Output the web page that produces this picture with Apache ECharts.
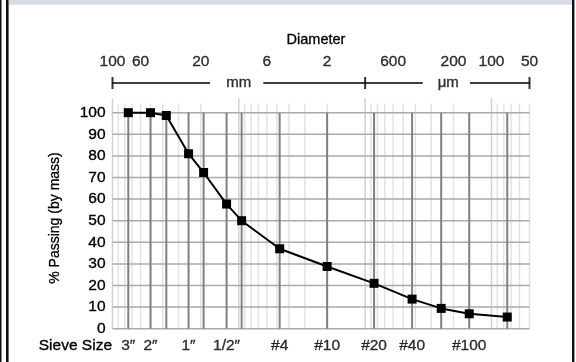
<!DOCTYPE html>
<html>
<head>
<meta charset="utf-8">
<script src="https://cdn.jsdelivr.net/npm/echarts@6/dist/echarts.min.js"></script>
<style>
html,body{margin:0;padding:0;background:#fff;}
#chart{width:576px;height:362px;}
</style>
</head>
<body>
<div id="chart"></div>
<script>
// sieve openings (mm) and % passing
var sieveSizes = [75, 50, 37.5, 25, 19, 12.5, 9.5, 4.75, 2.0, 0.85, 0.425, 0.25, 0.15, 0.075];
var sieveNames = ['3″', '2″', '', '1″', '', '1/2″', '', '#4', '#10', '#20', '#40', '', '#100', ''];
var passing = [100, 100, 98.7, 81, 72.3, 57.7, 50, 37, 28.8, 21, 13.7, 9.4, 6.9, 5.4];

// diameter scale on top
var diaTicks = [100, 60, 20, 6, 2, 0.6, 0.2, 0.1, 0.05];
var diaLabels = ['100', '60', '20', '6', '2', '600', '200', '100', '50'];
var unitPos = [10, 0.22];
var unitNames = ['mm', 'μm'];
var barEnds = [100, 1, 0.05];
// bar pieces, broken where the unit names sit
var barPieces = [[100, 16.9], [6.4, 0.35], [0.148, 0.05]];

// grid
var yTicks = [0, 10, 20, 30, 40, 50, 60, 70, 80, 90, 100];
var decades = [0.01, 0.1, 1, 10, 100];
var mantissa = [1, 2, 3, 4, 5, 6, 7, 8, 9];

var xMin = 0.05, xMax = 100;
var FONT = '"Liberation Sans", Arial, sans-serif';
var TXT = {color:'#000', fontFamily:FONT, textBorderColor:'#000', textBorderWidth:0.35};
var BAR_Y = 0.175;

var minorLines = [];
decades.forEach(function(d){
    mantissa.forEach(function(m){
        var v = +(d * m).toPrecision(3);
        if (v >= xMin && v <= xMax) minorLines.push([v, m == 1 ? 1 : 0]);
    });
});

var chart = echarts.init(document.getElementById('chart'));

// vertical line helper for custom series
function vLine(y0, y1, style){
    return function(params, api){
        var dec = api.value(1) == 1;
        var p0 = api.coord([api.value(0), y0]);
        var p1 = api.coord([api.value(0), dec ? y1 + 2.5 : y1]);
        return {type:'line', shape:{x1:p0[0], y1:p0[1], x2:p1[0], y2:p1[1]},
            style:{stroke: dec && style.decadeStroke ? style.decadeStroke : style.stroke, lineWidth: style.lineWidth}};
    };
}

function txt(size, extra){
    return echarts.util.extend(echarts.util.extend({fontSize:size}, TXT), extra || {});
}

var barData = [];
barPieces.forEach(function(p, i){
    if (i > 0) barData.push('-');
    barData.push([p[0], BAR_Y], [p[1], BAR_Y]);
});

var option = {
    animation: false,
    backgroundColor: '#fff',
    textStyle: {fontFamily: FONT},
    grid: [
        {left: 112.5, right: 46.5, top: 98, bottom: 33.3},
        {left: 112.5, right: 46.5, top: 50, height: 40}
    ],
    xAxis: [
        {type:'log', logBase:10, gridIndex:0, inverse:true, min:xMin, max:xMax,
         axisLine:{show:false}, axisTick:{show:false}, axisLabel:{show:false}, splitLine:{show:false}},
        {type:'log', logBase:10, gridIndex:1, inverse:true, min:xMin, max:xMax,
         axisLine:{show:false}, axisTick:{show:false}, axisLabel:{show:false}, splitLine:{show:false}}
    ],
    yAxis: [
        {type:'value', gridIndex:0, min:0, max:106.8, interval:10,
         axisLine:{show:false}, axisTick:{show:false}, splitLine:{show:false},
         axisLabel:txt(15.5, {margin:7, formatter:function(v){ return v <= 100 ? v : ''; }})},
        {type:'value', gridIndex:1, min:0, max:1, show:false}
    ],
    graphic: [
        {type:'rect', left:0, top:0, shape:{width:1.5, height:362}, style:{fill:'#111'}},
        {type:'rect', left:6, top:0, shape:{width:2.6, height:362}, style:{fill:'#111'}},
        {type:'rect', left:9, top:0, shape:{width:563, height:4.7}, style:{fill:'#d5dce4'}},
        {type:'rect', left:572, top:0, shape:{width:2.4, height:362}, style:{fill:'#111'}},
        {type:'text', x:316, y:40, style:{text:'Diameter', fill:'#000', font:'14.5px ' + FONT, textAlign:'center', textVerticalAlign:'middle', stroke:'#000', lineWidth:0.3}},
        {type:'text', x:55, y:218, rotation:Math.PI/2, style:{text:'% Passing (by mass)', fill:'#000', font:'14px ' + FONT, textAlign:'center', textVerticalAlign:'middle', stroke:'#000', lineWidth:0.3}},
        {type:'text', x:112, y:346, style:{text:'Sieve Size', fill:'#000', font:'15.5px ' + FONT, textAlign:'right', textVerticalAlign:'middle', stroke:'#000', lineWidth:0.35}}
    ],
    series: [
        {   // light log grid
            type:'custom', xAxisIndex:0, yAxisIndex:0, silent:true, z:1,
            data: minorLines,
            encode:{x:0},
            renderItem: vLine(0, 104.2, {stroke:'#e3e3e3', decadeStroke:'#d2d2d2', lineWidth:1.5})
        },
        {   // horizontal lines
            type:'custom', xAxisIndex:0, yAxisIndex:0, silent:true, z:2,
            data: yTicks.map(function(v){ return [xMax, v]; }),
            encode:{x:0, y:1},
            renderItem: function(params, api){
                var p0 = api.coord([xMax, api.value(1)]);
                var p1 = api.coord([xMin, api.value(1)]);
                return {type:'line', shape:{x1:p0[0], y1:p0[1], x2:p1[0], y2:p1[1]}, style:{stroke:'#aaaaaa', lineWidth:1.5}};
            }
        },
        {   // sieve lines
            type:'custom', xAxisIndex:0, yAxisIndex:0, silent:true, z:3,
            data: sieveSizes.map(function(d){ return [d, 0]; }),
            encode:{x:0},
            renderItem: vLine(0, 100, {stroke:'#808080', lineWidth:2})
        },
        {
            type:'line', xAxisIndex:0, yAxisIndex:0, z:10,
            data: sieveSizes.map(function(d, i){ return [d, passing[i]]; }),
            symbol:'rect', symbolSize:9, showAllSymbol:true,
            itemStyle:{color:'#000'},
            lineStyle:{color:'#000', width:2}
        },
        {   // sieve names
            type:'scatter', xAxisIndex:0, yAxisIndex:0, z:10, silent:true,
            data: sieveSizes.map(function(d, i){ return {value:[d, 0], name:sieveNames[i]}; }),
            symbolSize:1, itemStyle:{color:'rgba(0,0,0,0)'},
            label:txt(15.5, {show:true, position:'bottom', distance:9, formatter:'{b}'})
        },
        {   // diameter labels
            type:'scatter', xAxisIndex:1, yAxisIndex:1, silent:true,
            data: diaTicks.map(function(d, i){ return {value:[d, 0.7], name:diaLabels[i]}; }),
            symbolSize:1, itemStyle:{color:'rgba(0,0,0,0)'},
            label:txt(15.5, {show:true, position:'inside', formatter:'{b}'})
        },
        {
            type:'line', xAxisIndex:1, yAxisIndex:1, silent:true, z:2,
            data: barData, connectNulls:false,
            symbol:'none', lineStyle:{color:'#000', width:1.5}
        },
        {
            type:'scatter', xAxisIndex:1, yAxisIndex:1, silent:true, z:3,
            data: barEnds.map(function(d){ return [d, BAR_Y]; }),
            symbol:'rect', symbolSize:[2, 12], itemStyle:{color:'#000'}
        },
        {
            type:'scatter', xAxisIndex:1, yAxisIndex:1, silent:true, z:4,
            data: unitPos.map(function(d, i){ return {value:[d, BAR_Y], name:unitNames[i]}; }),
            symbolSize:1, itemStyle:{color:'rgba(0,0,0,0)'},
            label:txt(15, {show:true, position:'inside', formatter:'{b}'})
        }
    ]
};
chart.setOption(option);
</script>
</body>
</html>
